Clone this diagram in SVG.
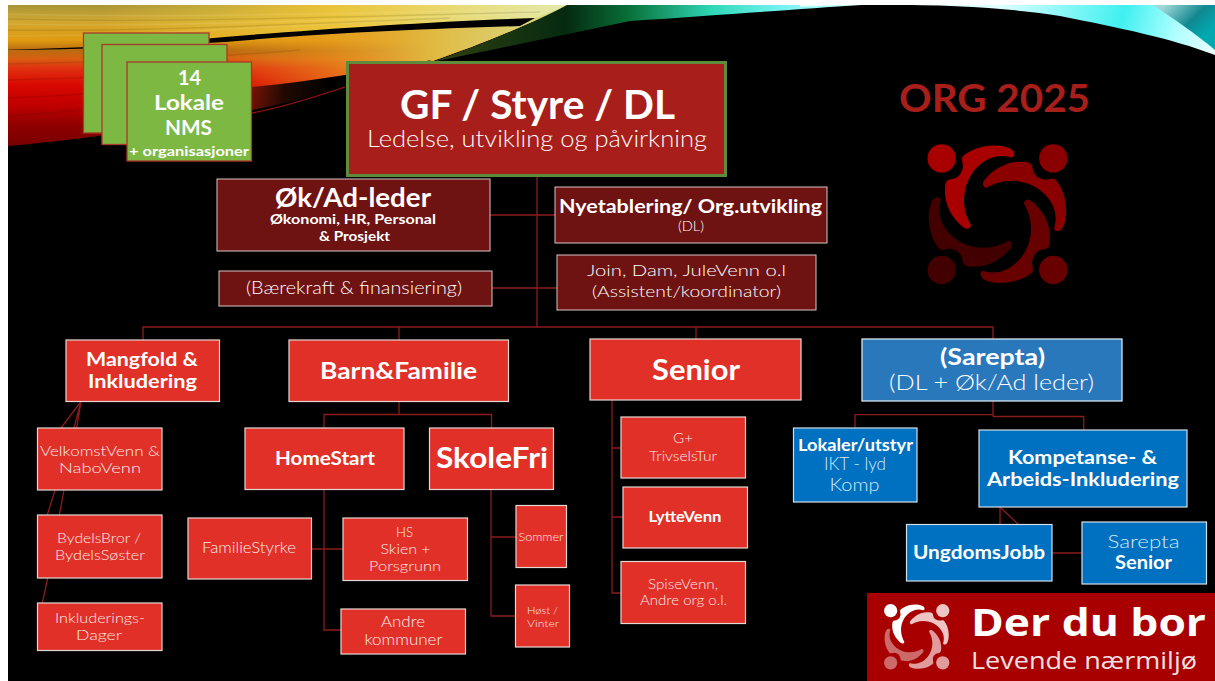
<svg xmlns="http://www.w3.org/2000/svg" xmlns:xlink="http://www.w3.org/1999/xlink" width="1215" height="681" viewBox="0 0 1215 681">
<style>
text{font-family:"Lato","Liberation Sans",sans-serif;fill:#fff;text-anchor:middle}
.b{font-weight:700}
.l{font-weight:300}
.r{fill:#e03028;stroke:#e4d8d4;stroke-width:1.2}
.u{fill:#0070c0;stroke:#cfe0ea;stroke-width:1.2}
.d{fill:#6e1212;stroke:#d8c8c8;stroke-width:1}
.g{fill:#7db843;stroke:#a83a2a;stroke-width:1.3}
.c{fill:none;stroke:#8a1c1c;stroke-width:1.3}
.p{fill:#ffecea;font-weight:300}
.q{fill:#d4eafa;font-weight:300}
</style>
<defs>
<linearGradient id="sw" gradientUnits="userSpaceOnUse" x1="0" y1="5" x2="0" y2="146">
<stop offset="0" stop-color="#a89438"/><stop offset=".11" stop-color="#d0a830"/><stop offset=".25" stop-color="#e09a10"/><stop offset=".32" stop-color="#b86c10"/><stop offset=".38" stop-color="#d86010"/><stop offset=".45" stop-color="#e03010"/><stop offset=".57" stop-color="#d80800"/><stop offset=".71" stop-color="#c00000"/><stop offset=".85" stop-color="#900000"/><stop offset="1" stop-color="#780000"/>
</linearGradient>
<linearGradient id="fade" gradientUnits="userSpaceOnUse" x1="220" y1="0" x2="570" y2="0">
<stop offset="0" stop-color="#e89a20" stop-opacity="0"/><stop offset=".3" stop-color="#ec9c20" stop-opacity=".55"/><stop offset=".6" stop-color="#e0b840"/><stop offset="1" stop-color="#d8e090"/>
</linearGradient>
<linearGradient id="up" gradientUnits="userSpaceOnUse" x1="100" y1="0" x2="560" y2="0">
<stop offset="0" stop-color="#f0d040" stop-opacity="0"/><stop offset=".5" stop-color="#f0d040" stop-opacity=".75"/><stop offset="1" stop-color="#e4e8a8"/>
</linearGradient>
<linearGradient id="dk" gradientUnits="userSpaceOnUse" x1="215" y1="0" x2="330" y2="0">
<stop offset="0" stop-color="#000" stop-opacity="0"/><stop offset=".6" stop-color="#000" stop-opacity=".85"/><stop offset="1" stop-color="#000"/>
</linearGradient>
<linearGradient id="gr" gradientUnits="userSpaceOnUse" x1="440" y1="0" x2="860" y2="0">
<stop offset="0" stop-color="#304010"/><stop offset=".3" stop-color="#052a10"/><stop offset=".45" stop-color="#087038"/><stop offset=".65" stop-color="#30d8b8"/><stop offset=".8" stop-color="#70f0f0"/><stop offset="1" stop-color="#d0ffff"/>
</linearGradient>
<linearGradient id="cy" gradientUnits="userSpaceOnUse" x1="1000" y1="0" x2="1215" y2="60">
<stop offset="0" stop-color="#e0ffff"/><stop offset=".55" stop-color="#40f0f0"/><stop offset=".8" stop-color="#b0ffff"/><stop offset="1" stop-color="#f0ffff"/>
</linearGradient>
<linearGradient id="tl" gradientUnits="userSpaceOnUse" x1="1165" y1="5" x2="1200" y2="40">
<stop offset="0" stop-color="#a0d8d8"/><stop offset=".6" stop-color="#108890"/><stop offset="1" stop-color="#00a8b0"/>
</linearGradient>
<g id="arm"><circle cx="941.700" cy="158.400" r="14.200"/><path d="M1011 157.500C1000 154 990 157 982 163C970 172 964 186 964 200C964 210 967 218 971 225C971 229 966 230 963 227C952 218 945 205 945 192C945 186 945 181 949 179.500C957 179 962 175 963 166C962 158 960 157 968 152.500C980 145 1000 143 1011 149C1016 152 1015 158 1011 157.500z"/></g>
</defs>
<rect width="1215" height="681" fill="#fff"/>
<rect x="8" y="5" width="1207" height="676" fill="#000"/>
<g id="swoosh">
<path d="M8 5H570C520 28 480 45 430 62C345 92 200 128 8 146z" fill="url(#sw)"/>
<path d="M8 5H570C520 28 480 45 430 62C345 92 200 128 8 146z" fill="url(#fade)"/>
<path d="M8 5H570L535 18C440 21 320 30 225 38C150 43 80 47 8 50z" fill="url(#up)"/>
<g fill="none" stroke="#fff" stroke-opacity=".1" stroke-width="1.500">
<path d="M8 14C150 18 300 14 540 10"/><path d="M8 24C150 28 300 20 530 14"/><path d="M8 36C120 36 250 28 400 20"/>
</g>
<g fill="none" stroke="#000" stroke-opacity=".1" stroke-width="1.500">
<path d="M8 19C150 23 300 18 540 12"/><path d="M8 30C120 32 250 26 450 18"/><path d="M8 64C100 62 200 58 300 50"/><path d="M8 80C100 78 200 72 250 66"/><path d="M8 98C60 96 110 92 130 90"/><path d="M8 116C40 114 60 112 80 110"/>
</g>
<path d="M8 49.500C80 48.500 150 44 225 37C320 29 440 21 535 18L520 26C430 29 340 32 225 42C150 46 80 49.800 8 49.800z" fill="#000"/>
<path d="M215 90C260 87 300 82 345 75C380 69 410 64 432 60C340 93 260 112 205 122z" fill="url(#dk)"/>
<path d="M252 113C290 106 320 95 345 87" fill="none" stroke="#a01010" stroke-width="1.200"/>
<path d="M567 5H860C800 9 720 15 630 21C560 36 490 50 432 62C480 45 530 25 567 5z" fill="url(#gr)"/>
<path d="M800 7C900 2 1000 6 1060 16C1120 28 1170 38 1215 55V5H800z" fill="url(#cy)"/>
<path d="M1153 5H1215V50C1195 33 1175 20 1153 5z" fill="url(#tl)"/>
</g>
<g id="connectors" class="c">
<path class="c" d="M537 175V327M490 215H555M492 288H557M143 340V327H993V339M399 327V340M696 327V339"/>
<path class="c" d="M399 401V414.500M324 428V414.500H491.500V428M324 490V630H341M311 549H343M491 489V616H516M491 537H516"/>
<path class="c" d="M612 400V593H621M612 448H621M612 517H623"/>
<path class="c" d="M993 401V416.500M855 428V414.700H993M993 416.500H1083.700V430M1000 507V525M1000 507L1019 525M1052 553H1082"/>
<path class="c" d="M81 401.500L61 428M81 401.500L76.700 428M81 401.500L74 428M55 490L47.300 515M64 490L59.300 515M47.700 578L42.300 603"/>
</g>
<g id="n-lokale2"><rect class="g" x="83.500" y="33" width="125.500" height="100"/></g>
<g id="n-lokale1"><rect class="g" x="102" y="44.500" width="125" height="100"/></g>
<g id="n-lokale"><rect class="g" x="127" y="62" width="124.500" height="99"/>
<text class="b" x="189.500" y="85" font-size="21" textLength="23" lengthAdjust="spacingAndGlyphs">14</text>
<text class="b" x="189" y="110" font-size="21" textLength="70" lengthAdjust="spacingAndGlyphs">Lokale</text>
<text class="b" x="188.500" y="135" font-size="21" textLength="47" lengthAdjust="spacingAndGlyphs">NMS</text>
<text class="b" x="189" y="156" font-size="13.500" textLength="120" lengthAdjust="spacingAndGlyphs">+ organisasjoner</text></g>
<g id="n-gf"><rect x="347.500" y="62.500" width="378" height="113" fill="#a81e1a" stroke="#5f8c3c" stroke-width="3"/>
<text class="b" x="537.500" y="119" font-size="40" textLength="275" lengthAdjust="spacingAndGlyphs">GF / Styre / DL</text>
<text class="l" x="537" y="147" font-size="24" textLength="340" lengthAdjust="spacingAndGlyphs">Ledelse, utvikling og påvirkning</text></g>
<g id="n-ok"><rect class="d" x="217" y="179" width="273" height="72"/>
<text class="b" x="353" y="207" font-size="26" textLength="156" lengthAdjust="spacingAndGlyphs">Øk/Ad-leder</text>
<text class="b" x="353" y="224" font-size="13" textLength="166" lengthAdjust="spacingAndGlyphs">Økonomi, HR, Personal</text>
<text class="b" x="354.500" y="241" font-size="13" textLength="71" lengthAdjust="spacingAndGlyphs">&amp; Prosjekt</text></g>
<g id="n-ny"><rect class="d" x="555" y="187" width="272" height="56"/>
<text class="b" x="690.500" y="213" font-size="19" textLength="263" lengthAdjust="spacingAndGlyphs">Nyetablering/ Org.utvikling</text>
<text class="l" x="691" y="231" font-size="13.500" textLength="26" lengthAdjust="spacingAndGlyphs">(DL)</text></g>
<g id="n-baere"><rect class="d" x="219" y="271" width="273" height="35"/>
<text class="l" x="354" y="294" font-size="18" textLength="216" lengthAdjust="spacingAndGlyphs">(Bærekraft &amp; finansiering)</text></g>
<g id="n-join"><rect class="d" x="557" y="255" width="259" height="55"/>
<text class="l" x="686.500" y="276" font-size="16.500" textLength="199" lengthAdjust="spacingAndGlyphs">Join, Dam, JuleVenn o.l</text>
<text class="l" x="686.500" y="297" font-size="16.500" textLength="189" lengthAdjust="spacingAndGlyphs">(Assistent/koordinator)</text></g>
<g id="n-mangfold"><rect class="r" x="66" y="340" width="153.500" height="61.500"/>
<text class="b" x="142" y="366" font-size="18.500" textLength="112" lengthAdjust="spacingAndGlyphs">Mangfold &amp;</text>
<text class="b" x="142.500" y="388" font-size="18.500" textLength="109" lengthAdjust="spacingAndGlyphs">Inkludering</text></g>
<g id="n-barn"><rect class="r" x="289" y="340" width="219.500" height="61.500"/>
<text class="b" x="398.500" y="379" font-size="22" textLength="157" lengthAdjust="spacingAndGlyphs">Barn&amp;Familie</text></g>
<g id="n-senior"><rect class="r" x="590" y="339" width="211" height="61"/>
<text class="b" x="696" y="380" font-size="29" textLength="88" lengthAdjust="spacingAndGlyphs">Senior</text></g>
<g id="n-sarepta"><rect x="862" y="339" width="260" height="62" fill="#2a78bc" stroke="#e8f0f4" stroke-width="1.200"/>
<text class="b" x="992.500" y="365" font-size="22" textLength="105" lengthAdjust="spacingAndGlyphs">(Sarepta)</text>
<text class="l" x="991.500" y="390" font-size="22" textLength="205" lengthAdjust="spacingAndGlyphs">(DL + Øk/Ad leder)</text></g>
<g id="n-velkomst"><rect class="r" x="37.500" y="428" width="124.500" height="62"/>
<text class="p" x="100" y="456" font-size="14.500" textLength="120" lengthAdjust="spacingAndGlyphs">VelkomstVenn &amp;</text>
<text class="p" x="100" y="473" font-size="14.500" textLength="82" lengthAdjust="spacingAndGlyphs">NaboVenn</text></g>
<g id="n-bydels"><rect class="r" x="37.500" y="515" width="124.500" height="63"/>
<text class="p" x="99" y="543" font-size="14.500" textLength="84" lengthAdjust="spacingAndGlyphs">BydelsBror /</text>
<text class="p" x="100" y="560" font-size="14.500" textLength="90" lengthAdjust="spacingAndGlyphs">BydelsSøster</text></g>
<g id="n-inkl"><rect class="r" x="37.500" y="603" width="124.500" height="47.500"/>
<text class="p" x="100" y="623" font-size="14.500" textLength="90" lengthAdjust="spacingAndGlyphs">Inkluderings-</text>
<text class="p" x="99" y="640" font-size="14.500" textLength="46" lengthAdjust="spacingAndGlyphs">Dager</text></g>
<g id="n-home"><rect class="r" x="245" y="428" width="159" height="61.500"/>
<text class="b" x="325" y="465" font-size="18" textLength="100" lengthAdjust="spacingAndGlyphs">HomeStart</text></g>
<g id="n-skole"><rect class="r" x="429.500" y="428" width="124" height="61.500"/>
<text class="b" x="492" y="468" font-size="29" textLength="112" lengthAdjust="spacingAndGlyphs">SkoleFri</text></g>
<g id="n-familie"><rect class="r" x="188" y="518" width="123.500" height="61"/>
<text class="p" x="249" y="553" font-size="15" textLength="94" lengthAdjust="spacingAndGlyphs">FamilieStyrke</text></g>
<g id="n-hs"><rect class="r" x="343" y="518" width="124.500" height="62.500"/>
<text class="p" x="404.500" y="537" font-size="14.500" textLength="17" lengthAdjust="spacingAndGlyphs">HS</text>
<text class="p" x="405.500" y="554" font-size="14.500" textLength="50" lengthAdjust="spacingAndGlyphs">Skien +</text>
<text class="p" x="405" y="571" font-size="14.500" textLength="72" lengthAdjust="spacingAndGlyphs">Porsgrunn</text></g>
<g id="n-andre"><rect class="r" x="341" y="609" width="124.500" height="45"/>
<text class="p" x="403" y="627" font-size="15" textLength="44" lengthAdjust="spacingAndGlyphs">Andre</text>
<text class="p" x="403.500" y="645" font-size="15" textLength="78" lengthAdjust="spacingAndGlyphs">kommuner</text></g>
<g id="n-sommer"><rect class="r" x="516" y="505.500" width="50.500" height="62"/>
<text class="p" x="541" y="541" font-size="11" textLength="45" lengthAdjust="spacingAndGlyphs">Sommer</text></g>
<g id="n-host"><rect class="r" x="515.500" y="585" width="54" height="62"/>
<text class="p" x="542.500" y="614" font-size="10.500" textLength="31" lengthAdjust="spacingAndGlyphs">Høst /</text>
<text class="p" x="543" y="627" font-size="10.500" textLength="32" lengthAdjust="spacingAndGlyphs">Vinter</text></g>
<g id="n-g"><rect class="r" x="621" y="417" width="124.500" height="61"/>
<text class="p" x="683" y="443" font-size="13" textLength="20" lengthAdjust="spacingAndGlyphs">G+</text>
<text class="p" x="683" y="461" font-size="13" textLength="68" lengthAdjust="spacingAndGlyphs">TrivselsTur</text></g>
<g id="n-lytte"><rect class="r" x="623" y="487" width="124.500" height="61"/>
<text class="b" x="685" y="522" font-size="14.500" textLength="73" lengthAdjust="spacingAndGlyphs">LytteVenn</text></g>
<g id="n-spise"><rect class="r" x="621" y="561.500" width="124.500" height="62"/>
<text class="p" x="683" y="589" font-size="13" textLength="70" lengthAdjust="spacingAndGlyphs">SpiseVenn,</text>
<text class="p" x="683.500" y="605" font-size="13" textLength="87" lengthAdjust="spacingAndGlyphs">Andre org o.l.</text></g>
<g id="n-lokaler"><rect class="u" x="793.500" y="428" width="123.500" height="74"/>
<text class="b" x="855.500" y="451" font-size="17" textLength="115" lengthAdjust="spacingAndGlyphs">Lokaler/utstyr</text>
<text class="q" x="855" y="470" font-size="17" textLength="62" lengthAdjust="spacingAndGlyphs">IKT - lyd</text>
<text class="q" x="854.500" y="491" font-size="17" textLength="50" lengthAdjust="spacingAndGlyphs">Komp</text></g>
<g id="n-kompetanse"><rect class="u" x="979" y="430" width="208" height="77"/>
<text class="b" x="1082.500" y="464" font-size="18" textLength="149" lengthAdjust="spacingAndGlyphs">Kompetanse- &amp;</text>
<text class="b" x="1083" y="486" font-size="18" textLength="192" lengthAdjust="spacingAndGlyphs">Arbeids-Inkludering</text></g>
<g id="n-ungdom"><rect class="u" x="906.500" y="524.500" width="145.500" height="56.500"/>
<text class="b" x="979" y="559" font-size="18" textLength="132" lengthAdjust="spacingAndGlyphs">UngdomsJobb</text></g>
<g id="n-sar-senior"><rect class="u" x="1082" y="522" width="124.500" height="62"/>
<text class="q" x="1143.500" y="548" font-size="18" textLength="72" lengthAdjust="spacingAndGlyphs">Sarepta</text>
<text class="b" x="1143.500" y="569" font-size="18" textLength="57" lengthAdjust="spacingAndGlyphs">Senior</text></g>
<g id="title"><text class="b" x="994.500" y="112" font-size="38" textLength="191" lengthAdjust="spacingAndGlyphs" style="fill:#a81e1a">ORG 2025</text></g>
<g id="logo">
<use xlink:href="#arm" href="#arm" fill="#a80000"/>
<use xlink:href="#arm" href="#arm" fill="#8a0000" transform="rotate(90 997.500 214.200)"/>
<use xlink:href="#arm" href="#arm" fill="#680000" transform="rotate(180 997.500 214.200)"/>
<use xlink:href="#arm" href="#arm" fill="#420000" transform="rotate(270 997.500 214.200)"/>
</g>
<g id="footer"><rect x="867" y="593" width="348" height="88" fill="#a80000"/>
<g transform="translate(916.700 636.700) scale(.467) translate(-997.500 -214.200)">
<use xlink:href="#arm" href="#arm" fill="#fff"/>
<use xlink:href="#arm" href="#arm" fill="#efc4c4" transform="rotate(90 997.500 214.200)"/>
<use xlink:href="#arm" href="#arm" fill="#e09c9c" transform="rotate(180 997.500 214.200)"/>
<use xlink:href="#arm" href="#arm" fill="#cc6a6a" transform="rotate(270 997.500 214.200)"/>
</g>
<text x="1088.500" y="636" font-size="38" font-weight="700" textLength="235" lengthAdjust="spacingAndGlyphs" style="font-family:'Open Sans','Liberation Sans',sans-serif">Der du bor</text>
<text x="1084" y="669" font-size="23" textLength="226" lengthAdjust="spacingAndGlyphs" style="font-family:'Open Sans','Liberation Sans',sans-serif;fill:#f0e0e0">Levende nærmiljø</text></g>
</svg>
